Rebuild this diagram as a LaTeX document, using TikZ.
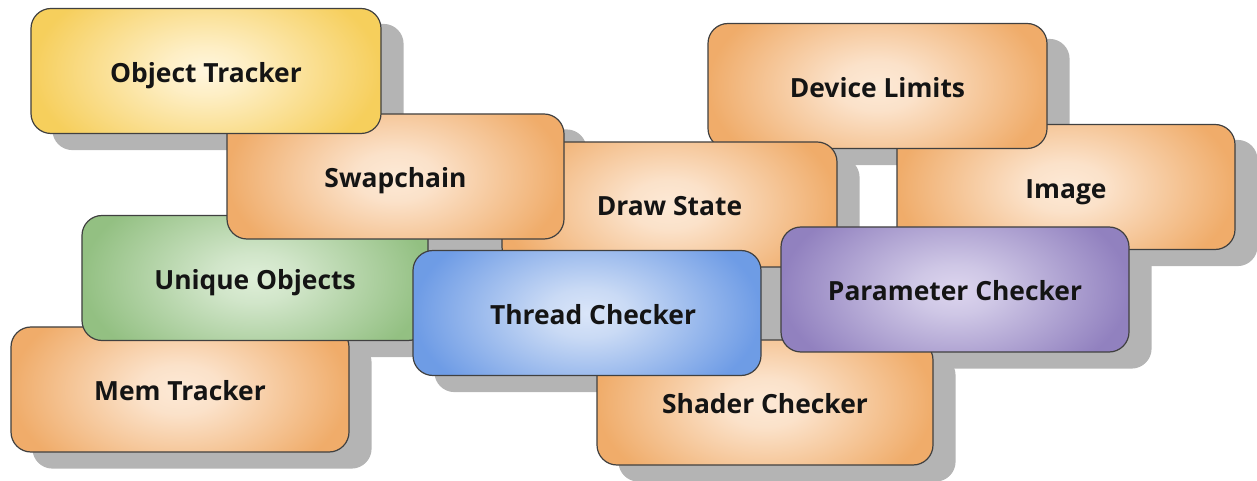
\documentclass[tikz,border=0pt]{standalone}
\usepackage{fontspec}
\setmainfont{Open Sans}
\usetikzlibrary{calc}
\pgfdeclarelayer{background}
\pgfsetlayers{background,main}
\pgfdeclareradialshading{orangesh}{\pgfpoint{0bp}{0bp}}{rgb(0bp)=(0.99,0.915,0.84); rgb(6bp)=(0.985,0.885,0.79); rgb(25bp)=(0.94,0.675,0.416); rgb(50bp)=(0.94,0.675,0.416)}
\pgfdeclareradialshading{yellowsh}{\pgfpoint{0bp}{0bp}}{rgb(0bp)=(1,0.965,0.87); rgb(6bp)=(0.995,0.935,0.77); rgb(25bp)=(0.965,0.81,0.36); rgb(50bp)=(0.965,0.81,0.36)}
\pgfdeclareradialshading{greensh}{\pgfpoint{0bp}{0bp}}{rgb(0bp)=(0.87,0.935,0.845); rgb(6bp)=(0.82,0.9,0.79); rgb(25bp)=(0.576,0.753,0.51); rgb(50bp)=(0.576,0.753,0.51)}
\pgfdeclareradialshading{bluesh}{\pgfpoint{0bp}{0bp}}{rgb(0bp)=(0.855,0.9,0.976); rgb(6bp)=(0.79,0.855,0.96); rgb(25bp)=(0.43,0.61,0.9); rgb(50bp)=(0.43,0.61,0.9)}
\pgfdeclareradialshading{purplesh}{\pgfpoint{0bp}{0bp}}{rgb(0bp)=(0.865,0.835,0.935); rgb(6bp)=(0.81,0.78,0.9); rgb(25bp)=(0.57,0.506,0.75); rgb(50bp)=(0.57,0.506,0.75)}
\definecolor{shadowc}{RGB}{180,180,180}
\definecolor{borderc}{RGB}{64,64,64}
\definecolor{textc}{RGB}{20,20,20}
\begin{document}
\begin{tikzpicture}[x=1bp,y=-1bp,
  box/.style={draw=borderc, line width=1.2bp, rounded corners=20bp, inner sep=0pt,
    minimum width=#1, minimum height=125bp, text=textc,
    text height=22.3bp, text depth=0pt,
    font=\fontsize{26.5}{30}\selectfont\bfseries},
  fillsh/.style={path picture={\shade[shading=#1]
      ([yshift=-40bp]path picture bounding box.south west) rectangle
      ([yshift=40bp]path picture bounding box.north east);}},
  shadowbox/.style={fill=shadowc, rounded corners=20bp}
]
\useasboundingbox (0,0) rectangle (1257,481);
% boxes, back to front
\node[box=338bp, fillsh=orangesh] (im) at (1066,187) {Image};
\node[box=339bp, fillsh=orangesh] (dl) at (877.5,86) {Device Limits};
\node[box=335bp, fillsh=orangesh] (ds) at (669.5,204.5) {Draw State};
\node[box=338bp, fillsh=orangesh] (mt) at (180,389.5) {Mem Tracker};
\node[box=346bp, fillsh=greensh] (uo) at (255,278) {Unique Objects};
\node[box=337bp, fillsh=orangesh] (sw) at (395.5,176.5) {Swapchain};
\node[box=350bp, fillsh=yellowsh] (ot) at (206,71) {Object Tracker};
\node[box=336bp, fillsh=orangesh] (sc) at (765,402.5) {Shader Checker};
\node[box=348bp, fillsh=bluesh] (tc) at (587,313) {\hspace*{12bp}Thread Checker};
\node[box=348bp, fillsh=purplesh] (pc) at (955,289.5) {Parameter Checker};
% shadows behind everything
\begin{pgfonlayer}{background}
\foreach \n in {im,dl,ds,mt,uo,sw,ot,sc,tc,pc}{
  \fill[shadowbox] ([shift={(22,16)}]\n.north west) rectangle ([shift={(22,16)}]\n.south east);
}
\end{pgfonlayer}
\end{tikzpicture}
\end{document}
